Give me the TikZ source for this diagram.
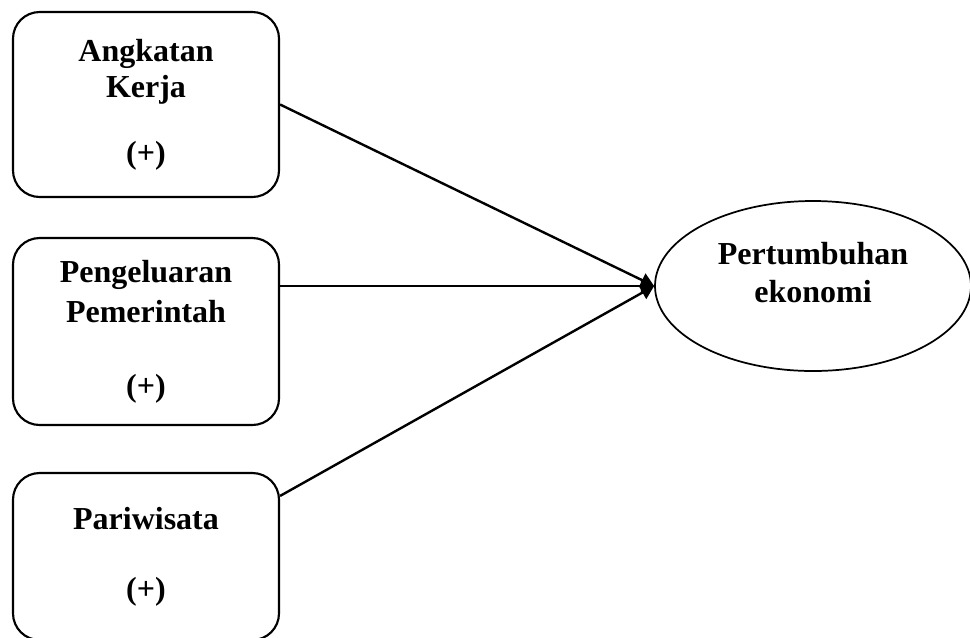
\documentclass[tikz,border=0pt]{standalone}
\usepackage{fontspec}
\setmainfont{Liberation Serif}
\usepackage{tikz}
\usetikzlibrary{positioning,arrows.meta,shapes.geometric,calc}

\begin{document}
\begin{tikzpicture}[x=0.75pt,y=-0.75pt,
    every node/.style={font=\fontsize{24}{27}\selectfont\bfseries},
    var/.style={draw=black, line width=1.6pt, rounded corners=20pt,
                minimum width=199.5pt, align=center, inner sep=2pt},
    target/.style={draw=black, ellipse, line width=1.3pt,
                   minimum width=237pt, minimum height=127.5pt, inner sep=0pt},
    label/.style={align=center, inner sep=0pt},
    arr/.style={-{Triangle[length=10pt,width=11pt]}, line width=1.8pt}]
  \useasboundingbox (0,0) rectangle (970,637);
  % independent variables
  \node[var, minimum height=138.75pt] (ak) at (146,104.5)
    {Angkatan\\Kerja\\[22.5pt](+)};
  \node[var, minimum height=140.25pt] (pp) at (146,331.5)
    {Pengeluaran\\[3pt]Pemerintah\\[28.5pt](+)};
  \node[var, minimum height=125.25pt] (pw) at (146,556.5)
    {Pariwisata\\[25.5pt](+)};
  % dependent variable
  \node[target] (pe) at (813,286) {};
  \node[label] (pelab) at (813,273) {Pertumbuhan\\[1.5pt]ekonomi};
  \coordinate (pw-out) at ([yshift=-18pt]pw.north east);
  \draw[arr] (ak.east) -- (pe.west);
  \draw[arr] (pp.east |- pe.west) -- (pe.west);
  \draw[arr] (pw-out) -- (pe.west);
\end{tikzpicture}
\end{document}
